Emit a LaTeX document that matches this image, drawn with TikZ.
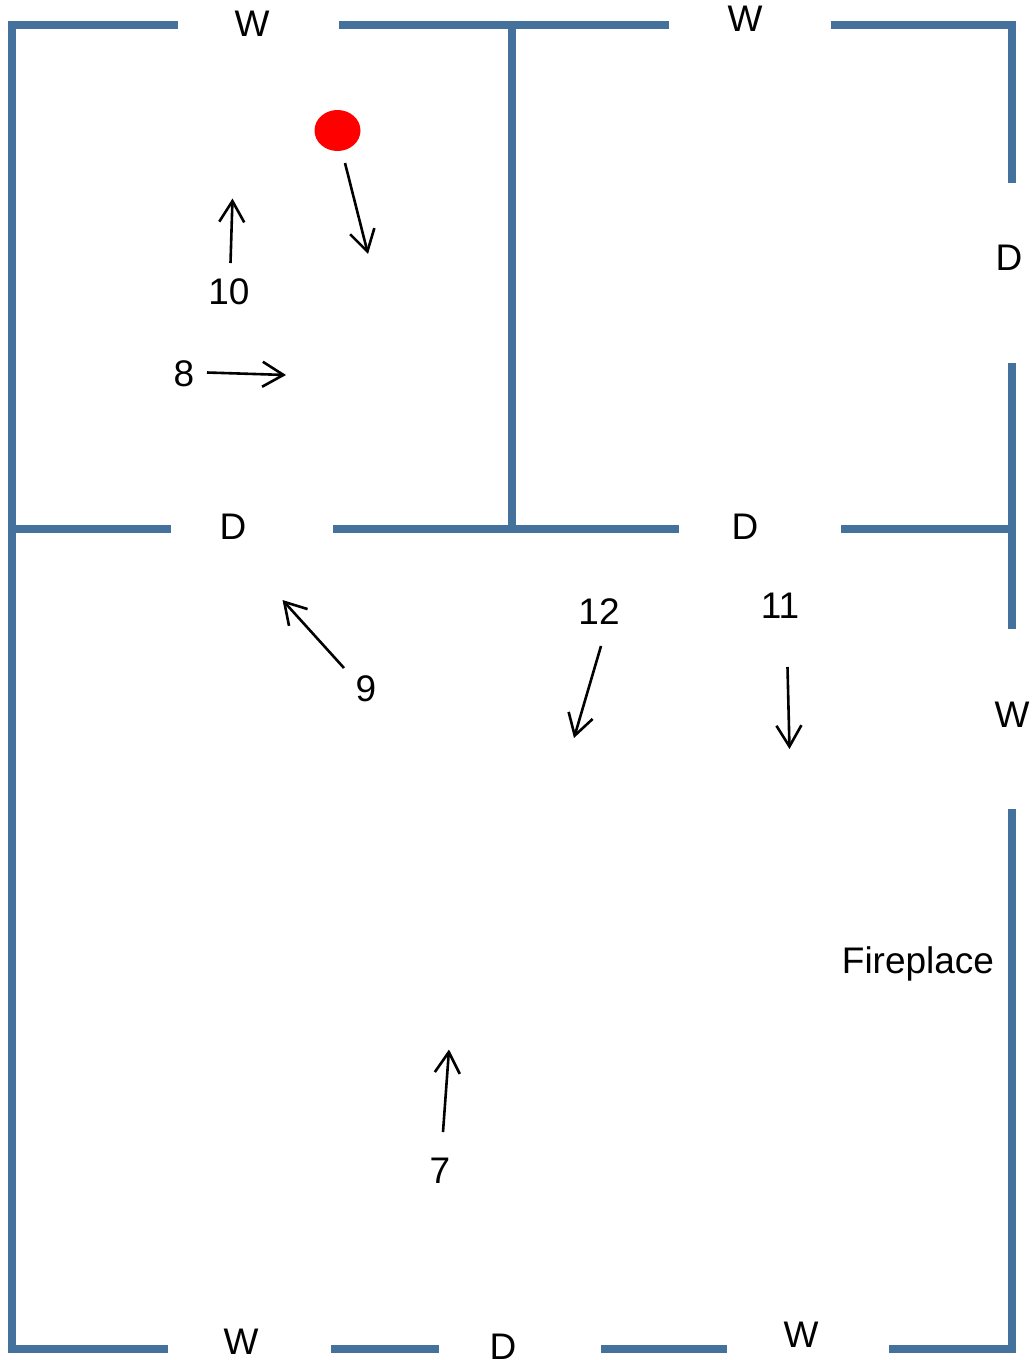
\documentclass[tikz,border=0pt]{standalone}
\usepackage{fontspec}
\setmainfont{Liberation Sans}
\usetikzlibrary{arrows.meta,shapes.geometric}
\definecolor{wallblue}{HTML}{44729D}
\tikzset{
  wall/.style={draw=wallblue,line width=8pt,line cap=butt,line join=miter},
  pointer/.style={draw=black,line width=2.6pt,-{Straight Barb[length=21pt,width=25pt,line width=2.6pt]}},
  lbl/.style={inner sep=0pt,font=\fontsize{37}{37}\selectfont,text=black}
}
\begin{document}
\begin{tikzpicture}[x=1pt,y=-1pt]
\useasboundingbox (0,0) rectangle (1031,1360);
% walls
\draw[wall] (178,25) -- (12,25) -- (12,1348.5) -- (168,1348.5);
\draw[wall] (339,25) -- (669,25);
\draw[wall] (831,25) -- (1012,25) -- (1012,183);
\draw[wall] (1012,363) -- (1012,629);
\draw[wall] (1012,809) -- (1012,1348.5) -- (889,1348.5);
\draw[wall] (512,25) -- (512,529);
\draw[wall] (12,529) -- (171,529);
\draw[wall] (333,529) -- (679,529);
\draw[wall] (841,529) -- (1012,529);
\draw[wall] (331,1348.5) -- (439,1348.5);
\draw[wall] (601,1348.5) -- (727,1348.5);
% marker
\node[ellipse,fill=red,minimum width=46pt,minimum height=41pt,inner sep=0pt] (dot) at (337.5,130.5) {};
% labels
\node[lbl] (w1) at (252,24) {W};
\node[lbl] (w2) at (745,19) {W};
\node[lbl] (d1) at (1009,258) {D};
\node[lbl] (d2) at (233,527) {D};
\node[lbl] (d3) at (745,526.5) {D};
\node[lbl] (w3) at (1012,715) {W};
\node[lbl] (w4) at (241,1342) {W};
\node[lbl] (d4) at (503,1346.5) {D};
\node[lbl] (w5) at (801,1335) {W};
\node[lbl] (n10) at (229,292) {10};
\node[lbl] (n8) at (184,374) {8};
\node[lbl] (n9) at (366,689) {9};
\node[lbl] (n12) at (599,612) {12};
\node[lbl] (n11) at (780,606) {11};
\node[lbl] (n7) at (440,1171) {7};
\node[lbl] (fp) at (918,964) {Fireplace};
% arrows
\coordinate (a1s) at (345,163); \coordinate (a1e) at (368,254);
\coordinate (a2s) at (230.5,263); \coordinate (a2e) at (232.5,198.5);
\coordinate (a3s) at (207,372.5); \coordinate (a3e) at (286,375);
\coordinate (a4s) at (344,668); \coordinate (a4e) at (282.5,600);
\coordinate (a5s) at (601,646); \coordinate (a5e) at (574,738);
\coordinate (a6s) at (787.5,667); \coordinate (a6e) at (789.5,749);
\coordinate (a7s) at (443,1132); \coordinate (a7e) at (449,1049.5);
\draw[pointer] (a1s) -- (a1e);
\draw[pointer] (a2s) -- (a2e);
\draw[pointer] (a3s) -- (a3e);
\draw[pointer] (a4s) -- (a4e);
\draw[pointer] (a5s) -- (a5e);
\draw[pointer] (a6s) -- (a6e);
\draw[pointer] (a7s) -- (a7e);
\end{tikzpicture}
\end{document}
